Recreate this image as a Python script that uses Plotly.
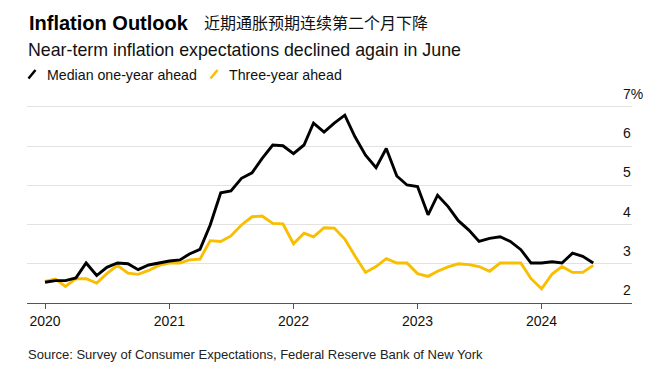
import pandas as pd
import plotly.graph_objects as go

# ---- data ----
months = pd.date_range("2020-01-01", periods=54, freq="MS")
median_one_year = [2.53, 2.57, 2.57, 2.64, 3.02, 2.70, 2.91, 3.02, 3.00, 2.85, 2.97, 3.02,
                   3.07, 3.10, 3.25, 3.37, 3.99, 4.81, 4.86, 5.18, 5.32, 5.69, 6.03, 6.01,
                   5.81, 6.03, 6.59, 6.36, 6.59, 6.79, 6.24, 5.77, 5.45, 5.94, 5.24, 5.01,
                   4.97, 4.25, 4.75, 4.46, 4.10, 3.86, 3.57, 3.65, 3.69, 3.57, 3.36, 3.02,
                   3.02, 3.05, 3.02, 3.27, 3.19, 3.02]
three_year = [2.55, 2.61, 2.42, 2.62, 2.62, 2.51, 2.75, 2.96, 2.76, 2.73, 2.83, 2.96,
              3.02, 3.02, 3.10, 3.12, 3.59, 3.57, 3.71, 3.99, 4.20, 4.22, 4.03, 4.02,
              3.51, 3.78, 3.69, 3.92, 3.91, 3.63, 3.20, 2.78, 2.93, 3.13, 3.02, 3.02,
              2.75, 2.68, 2.81, 2.92, 3.00, 2.98, 2.93, 2.81, 3.02, 3.02, 3.02, 2.62,
              2.36, 2.74, 2.93, 2.78, 2.78, 2.96]
series_names = ["Median one-year ahead", "Three-year ahead"]
y_tickvals = [2, 3, 4, 5, 6, 7]
y_ticktext = ["2", "3", "4", "5", "6", "7%"]
x_tickvals = ["2020-01-01", "2021-01-01", "2022-01-01", "2023-01-01", "2024-01-01"]
x_ticktext = ["2020", "2021", "2022", "2023", "2024"]
title = "Inflation Outlook"
title_cn = "近期通胀预期连续第二个月下降"
subtitle = "Near-term inflation expectations declined again in June"
source = "Source: Survey of Consumer Expectations, Federal Reserve Bank of New York"

# ---- style ----
BLACK = "#000000"
GOLD = "#F9BE00"
FONT = "Liberation Sans, Arial, sans-serif"
OFF = 8                      # default page body margin
W, H = 668 - 2 * OFF, 371 - 2 * OFF
# plot-area edges in page pixels
L, R, T, B = 27, 632, 105, 303


def px(x):
    return (x - L) / (R - L)


def py(y):
    return (B - y) / (B - T)


fig = go.Figure()
fig.add_trace(go.Scatter(x=months, y=three_year, mode="lines", name=series_names[1],
                         line=dict(color=GOLD, width=2.9), showlegend=False))
fig.add_trace(go.Scatter(x=months, y=median_one_year, mode="lines", name=series_names[0],
                         line=dict(color=BLACK, width=2.9), showlegend=False))

annotations = [
    dict(text="<b>" + title + "</b>", x=px(27), y=py(23), font=dict(size=20, color="#000", family=FONT)),
    dict(text=title_cn, x=px(202), y=py(21.5), font=dict(size=16, color="#111", family="Noto Sans CJK SC")),
    dict(text=subtitle, x=px(26), y=py(50.5), font=dict(size=17.8, color="#111", family=FONT)),
    dict(text=series_names[0], x=px(45), y=py(74.5), font=dict(size=14.2, color="#111", family=FONT)),
    dict(text=series_names[1], x=px(226.5), y=py(74.5), font=dict(size=14.2, color="#111", family=FONT)),
    dict(text=source, x=px(26), y=py(354), font=dict(size=13, color="#222", family=FONT)),
]
for a in annotations:
    a.update(xref="paper", yref="paper", xanchor="left", yanchor="middle", showarrow=False)

shapes = [
    dict(type="line", xref="paper", yref="paper", x0=px(28.5), y0=py(78.5), x1=px(35.5), y1=py(70),
         line=dict(color=BLACK, width=2.5)),
    dict(type="line", xref="paper", yref="paper", x0=px(210.5), y0=py(78.5), x1=px(217.5), y1=py(70),
         line=dict(color=GOLD, width=2.5)),
]

fig.update_layout(
    width=W, height=H,
    margin=dict(l=L - OFF, r=W - (R - OFF), t=T - OFF, b=H - (B - OFF), pad=0),
    paper_bgcolor="white", plot_bgcolor="white",
    font=dict(family=FONT, color="#111"),
    annotations=annotations, shapes=shapes,
    showlegend=False,
    xaxis=dict(
        type="date", range=["2019-11-09", "2024-09-23"],
        tickvals=x_tickvals, ticktext=x_ticktext,
        showgrid=False, zeroline=False,
        showline=True, linecolor="#555", linewidth=1,
        ticks="outside", ticklen=5, tickcolor="#555", tickwidth=1,
        tickfont=dict(size=14, color="#111", family=FONT),
    ),
    yaxis=dict(
        range=[2, 7.05], side="right",
        tickvals=y_tickvals, ticktext=y_ticktext,
        showgrid=True, gridcolor="#e2e2e2", gridwidth=1,
        zeroline=False, showline=False, ticks="",
        ticklabelposition="outside top", ticklabelstandoff=-10, ticklabelshift=-3,
        tickfont=dict(size=14, color="#111", family=FONT),
    ),
)

fig.write_html("out.html")
